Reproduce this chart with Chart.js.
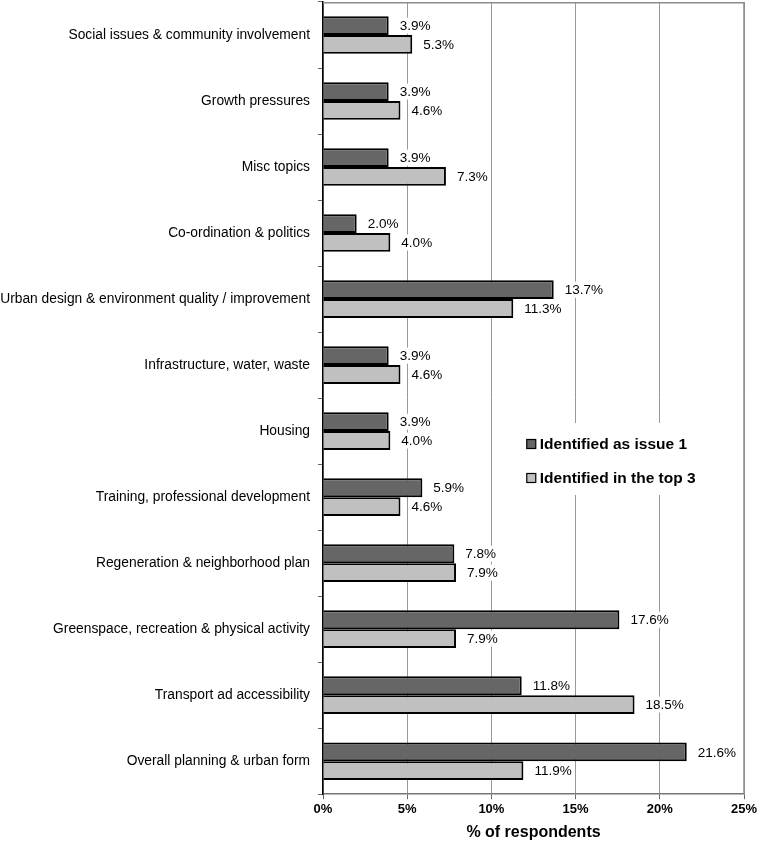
<!DOCTYPE html>
<html>
<head>
<meta charset="utf-8">
<script src="https://cdn.jsdelivr.net/npm/chart.js@4"></script>
<style>
  body { margin: 0; background: #fff; }
  #wrap { width: 760px; height: 843px; position: relative; }
</style>
</head>
<body>
<div id="wrap"><canvas id="mycanvas"></canvas></div>
<script>
var categories = [
  "Social issues & community involvement",
  "Growth pressures",
  "Misc topics",
  "Co-ordination & politics",
  "Urban design & environment quality / improvement",
  "Infrastructure, water, waste",
  "Housing",
  "Training, professional development",
  "Regeneration & neighborhood plan",
  "Greenspace, recreation & physical activity",
  "Transport ad accessibility",
  "Overall planning & urban form"
];
var issue1 = [3.9, 3.9, 3.9, 2.0, 13.7, 3.9, 3.9, 5.9, 7.8, 17.6, 11.8, 21.6];
var top3 = [5.3, 4.6, 7.3, 4.0, 11.3, 4.6, 4.0, 4.6, 7.9, 7.9, 18.5, 11.9];
var xTicks = [0, 5, 10, 15, 20, 25];

var fontFamily = "'Liberation Sans', Arial, sans-serif";

// frame round the plot area (top and right in grey)
var framePlugin = {
  id: 'frame',
  beforeDatasetsDraw: function(chart) {
    var a = chart.chartArea, c = chart.ctx;
    c.save();
    c.strokeStyle = '#8c8c8c';
    c.lineWidth = 1.5;
    c.beginPath();
    c.moveTo(a.left, a.top + 0.75);
    c.lineTo(a.right, a.top + 0.75);
    c.lineTo(a.right, a.bottom);
    c.stroke();
    c.restore();
  }
};

// value labels with a white box behind them
var labelPlugin = {
  id: 'valueLabels',
  afterDatasetsDraw: function(chart) {
    var c = chart.ctx;
    c.save();
    c.font = '13.5px ' + fontFamily;
    c.textBaseline = 'middle';
    chart.data.datasets.forEach(function(ds, i) {
      var meta = chart.getDatasetMeta(i);
      meta.data.forEach(function(bar, j) {
        var txt = ds.data[j].toFixed(1) + '%';
        var w = c.measureText(txt).width;
        var x = bar.x + 11;
        c.fillStyle = '#fff';
        c.fillRect(x - 1, bar.y - 8, w + 2, 16);
        c.fillStyle = '#000';
        c.fillText(txt, x, bar.y + 1);
      });
    });
    c.restore();
  }
};

// legend inside the plot, on a white box
var legendPlugin = {
  id: 'innerLegend',
  afterDraw: function(chart) {
    var c = chart.ctx;
    var xs = chart.scales.x;
    var x0 = xs.getPixelForValue(12.1);
    var ys = [444, 478];
    c.save();
    c.font = 'bold 15.5px ' + fontFamily;
    c.textBaseline = 'middle';
    var maxW = 0;
    chart.data.datasets.forEach(function(ds) {
      maxW = Math.max(maxW, c.measureText(ds.label).width);
    });
    c.fillStyle = '#fff';
    c.fillRect(x0 - 12, ys[0] - 21, maxW + 30, ys[1] - ys[0] + 38);
    chart.data.datasets.forEach(function(ds, i) {
      c.fillStyle = ds.backgroundColor;
      c.fillRect(x0, ys[i] - 4.5, 9, 9);
      c.strokeStyle = '#000';
      c.lineWidth = 1.2;
      c.strokeRect(x0, ys[i] - 4.5, 9, 9);
      c.fillStyle = '#000';
      c.fillText(ds.label, x0 + 13, ys[i] + 1);
    });
    c.restore();
  }
};

var chartdata = {
  labels: categories,
  datasets: [
    {
      label: "Identified as issue 1",
      data: issue1,
      backgroundColor: "#666666",
      borderColor: "#000000",
      borderWidth: 2,
      categoryPercentage: 0.57,
      barPercentage: 1.0
    },
    {
      label: "Identified in the top 3",
      data: top3,
      backgroundColor: "#c0c0c0",
      borderColor: "#000000",
      borderWidth: 2,
      categoryPercentage: 0.57,
      barPercentage: 1.0
    }
  ]
};

var ctx = document.getElementById('mycanvas');
var chart = new Chart(ctx, {
  type: 'bar',
  data: chartdata,
  options: {
    indexAxis: 'y',
    responsive: true,
    maintainAspectRatio: false,
    animation: false,
    layout: { padding: { top: 2, right: 16, left: 0, bottom: 1 } },
    plugins: {
      legend: { display: false },
      tooltip: { enabled: false }
    },
    scales: {
      x: {
        min: 0,
        max: 25,
        afterBuildTicks: function(scale) {
          scale.ticks = xTicks.map(function(v) { return { value: v }; });
        },
        ticks: {
          color: '#000',
          padding: 2,
          font: { family: fontFamily, size: 13, weight: 'bold' },
          callback: function(v) { return v + '%'; }
        },
        grid: {
          color: '#999999',
          lineWidth: 1,
          drawTicks: true,
          tickLength: 5,
          tickColor: '#666'
        },
        border: { color: '#777', width: 1.5 },
        title: {
          display: true,
          text: '% of respondents',
          color: '#000',
          padding: { top: 4, bottom: 0 },
          font: { family: fontFamily, size: 16, weight: 'bold' }
        }
      },
      y: {
        afterFit: function(scale) {
          scale.width = 323;
          scale.paddingTop = 0;
          scale.paddingBottom = 0;
        },
        ticks: {
          color: '#000',
          padding: 8,
          font: { family: fontFamily, size: 13.8 }
        },
        grid: {
          offset: true,
          drawOnChartArea: false,
          tickLength: 5,
          tickColor: '#666'
        },
        border: { color: '#000', width: 1.5 }
      }
    }
  },
  plugins: [framePlugin, labelPlugin, legendPlugin]
});
</script>
</body>
</html>
